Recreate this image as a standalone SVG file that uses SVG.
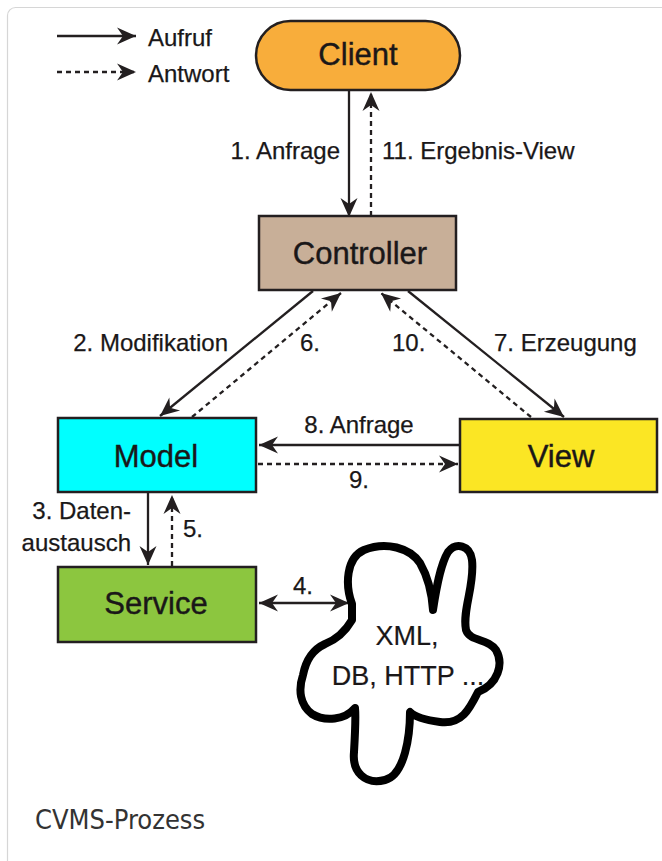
<svg xmlns="http://www.w3.org/2000/svg" width="662" height="861" viewBox="0 0 662 861">
  <style>
    .frame { fill: #ffffff; stroke: #d6d6d6; stroke-width: 1.2; }
    .node { stroke: #231f20; stroke-width: 2.5; }
    .nlabel { font-family: "Liberation Sans", Arial, sans-serif; font-size: 31px; fill: #1a1718; stroke: #1a1718; stroke-width: 0.4; text-anchor: middle; }
    .elabel { font-family: "Liberation Sans", Arial, sans-serif; font-size: 24px; fill: #1a1718; stroke: #1a1718; stroke-width: 0.25; }
    .call { stroke: #231f20; stroke-width: 2.3; fill: none; marker-end: url(#head); }
    .reply { stroke: #231f20; stroke-width: 2.3; fill: none; stroke-dasharray: 5 4; marker-end: url(#head); }
    .caption { font-family: "DejaVu Sans", sans-serif; font-stretch: condensed; font-size: 27px; fill: #333333; }
  </style>
  <defs>
    <marker id="head" viewBox="-20 -9 21 18" refX="0" refY="0" markerWidth="21" markerHeight="18" markerUnits="userSpaceOnUse" orient="auto-start-reverse">
      <path d="M0,0 L-19,-8.5 L-13,0 L-19,8.5 Z" fill="#231f20"/>
    </marker>
    <marker id="bighead" viewBox="-22 -10 23 20" refX="0" refY="0" markerWidth="23" markerHeight="20" markerUnits="userSpaceOnUse" orient="auto">
      <path d="M0,0 L-21,-9 L-14,0 L-21,9 Z" fill="#231f20"/>
    </marker>
  </defs>

  <!-- figure frame -->
  <rect class="frame" x="7.5" y="7.5" width="720" height="900" rx="8"/>

  <!-- legend -->
  <g id="legend">
    <line class="call" x1="57" y1="36" x2="136" y2="36" marker-end="url(#bighead)"/>
    <line class="reply" x1="57" y1="72" x2="136" y2="72" marker-end="url(#bighead)"/>
    <text class="elabel" x="148" y="46">Aufruf</text>
    <text class="elabel" x="148" y="82">Antwort</text>
  </g>

  <!-- connectors -->
  <g id="connectors">
    <line class="call" x1="349" y1="90" x2="349" y2="217"/>
    <line class="reply" x1="371" y1="216" x2="371" y2="92"/>
    <line class="call" x1="313" y1="291" x2="160" y2="416"/>
    <line class="reply" x1="192" y1="417" x2="341" y2="293"/>
    <line class="call" x1="408" y1="291" x2="564" y2="417"/>
    <line class="reply" x1="531" y1="417" x2="381" y2="293"/>
    <line class="call" x1="460" y1="445" x2="259" y2="445"/>
    <line class="reply" x1="258" y1="464" x2="458" y2="464"/>
    <line class="call" x1="148" y1="492" x2="148" y2="565"/>
    <line class="reply" x1="172" y1="566" x2="172" y2="495"/>
    <line class="call" x1="259" y1="603" x2="349" y2="603" marker-start="url(#head)"/>

    <text class="elabel" x="340" y="159" text-anchor="end">1. Anfrage</text>
    <text class="elabel" x="382" y="159">11. Ergebnis-View</text>
    <text class="elabel" x="228" y="351" text-anchor="end">2. Modifikation</text>
    <text class="elabel" x="300" y="351">6.</text>
    <text class="elabel" x="392" y="351">10.</text>
    <text class="elabel" x="494" y="351">7. Erzeugung</text>
    <text class="elabel" x="359" y="433" text-anchor="middle">8. Anfrage</text>
    <text class="elabel" x="359" y="488" text-anchor="middle">9.</text>
    <text class="elabel" x="131" y="519" text-anchor="end">3. Daten-</text>
    <text class="elabel" x="131" y="551" text-anchor="end">austausch</text>
    <text class="elabel" x="183" y="537">5.</text>
    <text class="elabel" x="293" y="594">4.</text>
  </g>

  <!-- nodes -->
  <g id="client">
    <rect class="node" x="256" y="21" width="204" height="69" rx="34.5" fill="#f8ad3b"/>
    <text class="nlabel" x="358" y="65">Client</text>
  </g>

  <g id="controller">
    <rect class="node" x="259" y="216" width="197" height="74" fill="#c8af98"/>
    <text class="nlabel" x="360" y="264">Controller</text>
  </g>

  <g id="model">
    <rect class="node" x="58" y="418" width="198" height="74" fill="#00ffff"/>
    <text class="nlabel" x="156" y="467">Model</text>
  </g>

  <g id="view">
    <rect class="node" x="460" y="419" width="197" height="73" fill="#fbe624"/>
    <text class="nlabel" x="561" y="467">View</text>
  </g>

  <g id="service">
    <rect class="node" x="58" y="567" width="198" height="75" fill="#8cc63f"/>
    <text class="nlabel" x="156" y="614">Service</text>
  </g>

  <g id="datasources">
    <path d="M352,604 C345,585 346,558 364,550 C386,541 410,548 420,563 C428,577 432,595 433,610 C436,590 440,565 448,552 C456,542 470,545 472,560 C475,585 462,610 466,630 C470,642 488,638 496,650 C504,664 498,684 478,692 C470,708 462,725 440,722 C425,720 414,716 410,712 C410,735 405,775 385,780 C365,785 352,772 354,752 C355,735 356,718 355,708 C345,720 325,722 312,714 C300,705 298,690 303,675 C306,660 312,650 325,644 C335,640 345,632 352,620 Z" fill="#ffffff" stroke="#000000" stroke-width="8" stroke-linejoin="round"/>
    <text class="nlabel" style="font-size:27px; stroke-width:0.2" x="407" y="645">XML,</text>
    <text class="nlabel" style="font-size:27px; stroke-width:0.2" x="408" y="685">DB, HTTP ...</text>
  </g>

  <text class="caption" x="35" y="829">CVMS-Prozess</text>
</svg>
